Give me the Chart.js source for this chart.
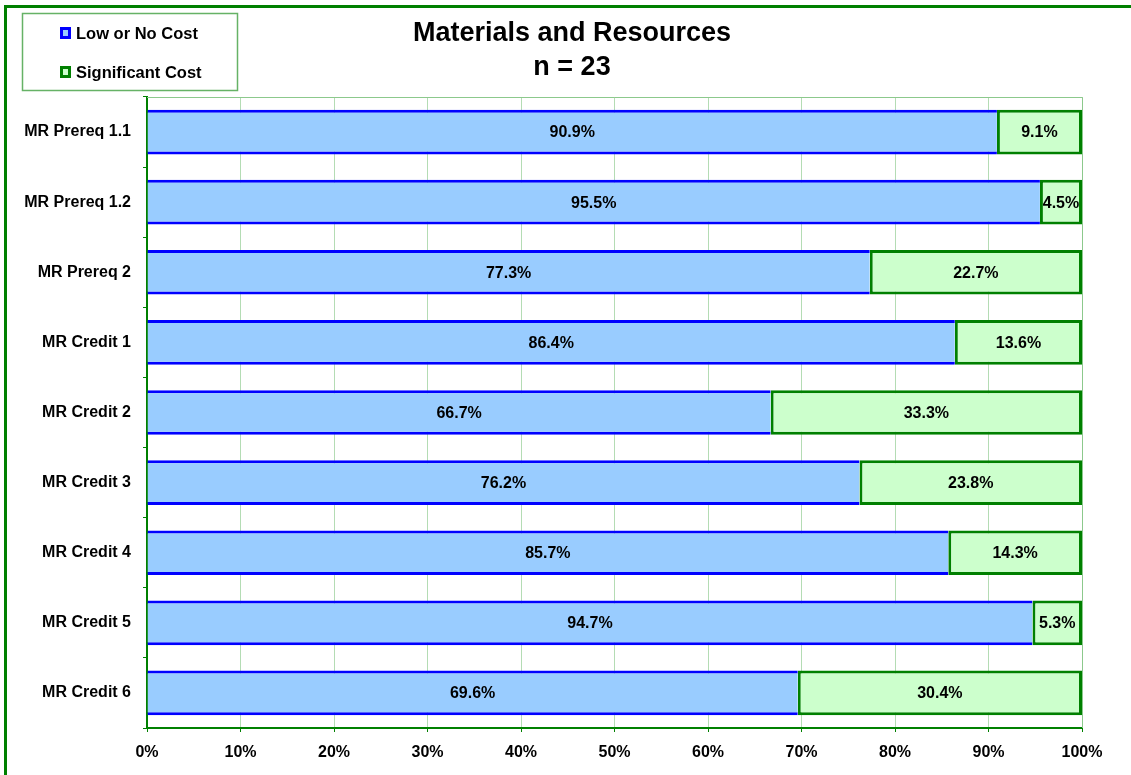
<!DOCTYPE html>
<html>
<head>
<meta charset="utf-8">
<script src="https://cdn.jsdelivr.net/npm/chart.js@4.4.1/dist/chart.umd.min.js"></script>
<style>
html,body{margin:0;padding:0;background:#fff;}
#wrap{width:1131px;height:775px;position:relative;}
</style>
</head>
<body>
<div id="wrap"><canvas id="c" width="1131" height="775"></canvas></div>
<script>
const categories = ["MR Prereq 1.1","MR Prereq 1.2","MR Prereq 2","MR Credit 1","MR Credit 2","MR Credit 3","MR Credit 4","MR Credit 5","MR Credit 6"];
const lowCost = [90.9, 95.5, 77.3, 86.4, 66.7, 76.2, 85.7, 94.7, 69.6];
const sigCost = [9.1, 4.5, 22.7, 13.6, 33.3, 23.8, 14.3, 5.3, 30.4];
const seriesNames = ["Low or No Cost", "Significant Cost"];
const titleLines = ["Materials and Resources", "n = 23"];

const FONT = "'Liberation Sans', Arial, Helvetica, sans-serif";
const DARKGREEN = '#008000';
const GRIDGREEN = '#b4dcb4';

const decor = {
  id: 'decor',
  beforeDatasetsDraw(chart) {
    const {ctx, chartArea: a} = chart;
    ctx.save();
    ctx.strokeStyle = '#8cc98c';
    ctx.lineWidth = 1;
    ctx.beginPath();
    ctx.moveTo(a.left, a.top + 0.5);
    ctx.lineTo(a.right + 0.5, a.top + 0.5);
    ctx.lineTo(a.right + 0.5, a.bottom);
    ctx.stroke();
    ctx.restore();
  },
  afterDraw(chart) {
    const {ctx} = chart;
    ctx.save();
    // title
    ctx.fillStyle = '#000';
    ctx.font = 'bold 27px ' + FONT;
    ctx.textAlign = 'center';
    ctx.textBaseline = 'middle';
    ctx.fillText(titleLines[0], 572, 34);
    ctx.fillText(titleLines[1], 572, 68);
    // data labels
    ctx.font = 'bold 16px ' + FONT;
    chart.data.datasets.forEach((ds, di) => {
      const meta = chart.getDatasetMeta(di);
      meta.data.forEach((bar, i) => {
        const p = bar.getProps(['x','y','base'], true);
        const cx = (p.x + p.base) / 2;
        ctx.fillText(ds.data[i].toFixed(1) + '%', cx, p.y + 1);
      });
    });
    // legend
    ctx.strokeStyle = '#66b266';
    ctx.lineWidth = 1.5;
    ctx.strokeRect(22.5, 13.5, 215, 77);
    const ys = [33, 72];
    chart.data.datasets.forEach((ds, di) => {
      const y = ys[di];
      ctx.fillStyle = ds.backgroundColor;
      ctx.fillRect(61, y - 5, 9, 10);
      ctx.strokeStyle = ds.borderColor;
      ctx.lineWidth = 3;
      ctx.strokeRect(61.5, y - 4.5, 8, 9);
      ctx.fillStyle = '#000';
      ctx.font = 'bold 16.5px ' + FONT;
      ctx.textAlign = 'left';
      ctx.textBaseline = 'middle';
      ctx.fillText(ds.label, 76, y + 1);
    });
    // outer border
    ctx.strokeStyle = DARKGREEN;
    ctx.lineWidth = 3;
    ctx.strokeRect(5.5, 6.5, 1200, 1000);
    ctx.restore();
  }
};

new Chart(document.getElementById('c'), {
  type: 'bar',
  data: {
    labels: categories,
    datasets: [
      {
        label: seriesNames[0],
        data: lowCost,
        backgroundColor: '#99ccff',
        borderColor: '#0000ff',
        borderWidth: {top: 3, bottom: 3, left: 0, right: 0},
        borderSkipped: false
      },
      {
        label: seriesNames[1],
        data: sigCost,
        backgroundColor: '#ccffcc',
        borderColor: DARKGREEN,
        borderWidth: 3,
        borderSkipped: false
      }
    ]
  },
  options: {
    indexAxis: 'y',
    responsive: false,
    animation: false,
    devicePixelRatio: 1,
    datasets: { bar: { categoryPercentage: 1, barPercentage: 0.637 } },
    layout: { padding: { left: 0, right: 49, top: 97, bottom: 0 } },
    plugins: {
      legend: { display: false },
      tooltip: { enabled: false },
      title: { display: false }
    },
    scales: {
      x: {
        stacked: true,
        min: 0,
        max: 100,
        ticks: {
          stepSize: 10,
          callback: v => v + '%',
          color: '#000',
          font: { family: FONT, size: 16, weight: 'bold' },
          padding: 11,
          maxRotation: 0
        },
        grid: { color: GRIDGREEN, tickColor: DARKGREEN, tickLength: 4, lineWidth: 1 },
        border: { color: DARKGREEN, width: 2 },
        afterFit(s) { s.height = 47; }
      },
      y: {
        stacked: true,
        ticks: {
          color: '#000',
          font: { family: FONT, size: 16, weight: 'bold' },
          padding: 12
        },
        grid: { drawOnChartArea: false, color: DARKGREEN, tickLength: 4, offset: true },
        border: { color: DARKGREEN, width: 2 },
        afterFit(s) { s.width = 147; }
      }
    }
  },
  plugins: [decor]
});
</script>
</body>
</html>
